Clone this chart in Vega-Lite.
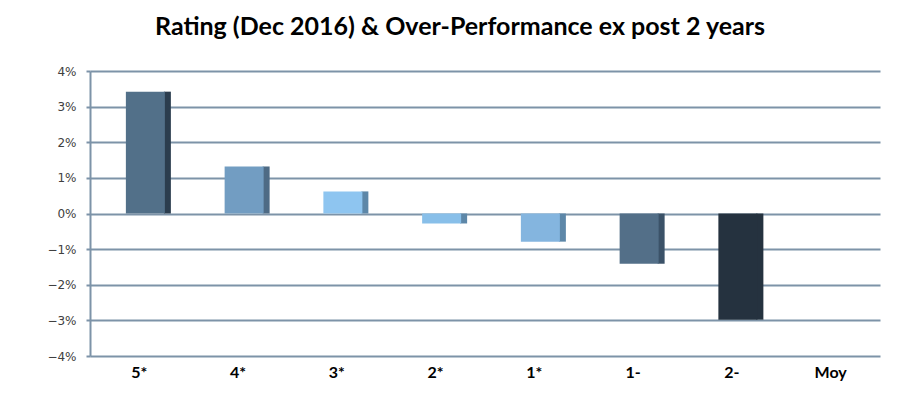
{
  "$schema": "https://vega.github.io/schema/vega-lite/v6.json",
  "width": 790,
  "height": 285,
  "autosize": {"type": "none"},
  "padding": {"left": 90, "top": 71, "right": 38, "bottom": 40},
  "background": "white",
  "title": {
    "text": "Rating (Dec 2016) & Over-Performance ex post 2 years",
    "font": "Lato",
    "fontSize": 25,
    "fontWeight": "bold",
    "color": "#000000",
    "anchor": "middle",
    "dx": -25,
    "offset": 25
  },
  "data": {
    "values": [
      {"cat": "5*", "value": 0.0342},
      {"cat": "4*", "value": 0.0132},
      {"cat": "3*", "value": 0.0062},
      {"cat": "2*", "value": -0.0028},
      {"cat": "1*", "value": -0.0079},
      {"cat": "1-", "value": -0.0141},
      {"cat": "2-", "value": -0.0298},
      {"cat": "Moy", "value": null}
    ]
  },
  "encoding": {
    "x": {
      "field": "cat",
      "type": "nominal",
      "sort": null,
      "scale": {"domain": ["5*", "4*", "3*", "2*", "1*", "1-", "2-", "Moy"], "paddingInner": 0, "paddingOuter": 0},
      "axis": {
        "title": null,
        "labelAngle": 0,
        "labelFont": "Lato",
        "labelFontWeight": "bold",
        "labelFontSize": 16,
        "labelColor": "#000000",
        "labelPadding": 8,
        "ticks": false,
        "domain": false,
        "grid": false
      }
    },
    "y": {
      "field": "value",
      "type": "quantitative",
      "scale": {"domain": [-0.04, 0.04], "nice": false},
      "axis": {
        "title": null,
        "values": [-0.04, -0.03, -0.02, -0.01, 0, 0.01, 0.02, 0.03, 0.04],
        "format": ".0%",
        "labelFont": "DejaVu Sans",
        "labelFontSize": 12,
        "labelColor": "#404040",
        "labelPadding": 10,
        "tickSize": 4,
        "tickColor": "#7d93a8",
        "tickWidth": 2,
        "domainColor": "#7d93a8",
        "domainWidth": 2,
        "grid": true,
        "gridColor": "#7d93a8",
        "gridWidth": 2
      }
    }
  },
  "layer": [
    {
      "mark": {"type": "bar", "width": 7, "xOffset": 28, "orient": "vertical"},
      "encoding": {
        "y2": {"datum": 0},
        "color": {
          "field": "cat",
          "type": "nominal",
          "legend": null,
          "scale": {
            "domain": ["5*", "4*", "3*", "2*", "1*", "1-", "2-", "Moy"],
            "range": ["#2b3d4e", "#4e6b85", "#5d87a8", "#5d87a8", "#5d87a8", "#3b5268", "#25323f", "#ffffff"]
          }
        }
      }
    },
    {
      "mark": {"type": "bar", "width": 39, "xOffset": 6, "orient": "vertical"},
      "encoding": {
        "y2": {"datum": 0},
        "color": {
          "field": "cat",
          "type": "nominal",
          "legend": null,
          "scale": {
            "domain": ["5*", "4*", "3*", "2*", "1*", "1-", "2-", "Moy"],
            "range": ["#527089", "#729dc2", "#8ec5f0", "#88bfe9", "#84b5df", "#536f88", "#25323f", "#ffffff"]
          }
        }
      }
    }
  ],
  "resolve": {"scale": {"color": "independent"}},
  "config": {"view": {"stroke": null}}
}
